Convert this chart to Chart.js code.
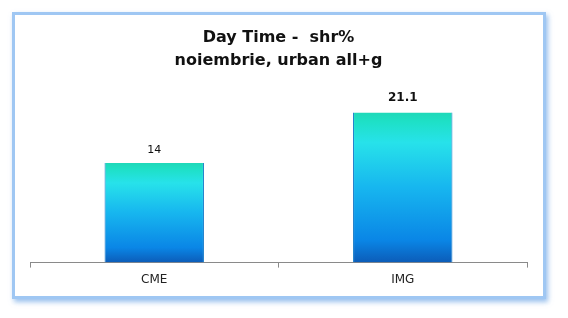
<!DOCTYPE html>
<html>
<head>
<meta charset="utf-8">
<script src="https://cdn.jsdelivr.net/npm/chart.js@4/dist/chart.umd.min.js"></script>
<style>
  html, body { margin: 0; padding: 0; background: #fff; }
  body { width: 568px; height: 318px; position: relative; overflow: hidden; }
  #frame {
    position: absolute; left: 12px; top: 12px;
    width: 528px; height: 281px;
    border: 3px solid #9fc7f3;
    box-shadow: 2px 3px 5px rgba(110, 165, 230, 0.7);
    background: #fff;
  }
  #wrap { position: absolute; left: 0; top: 0; width: 528px; height: 281px; }
</style>
</head>
<body>
<div id="frame"><div id="wrap"><canvas id="myChart"></canvas></div></div>
<script>
var titleLines = ['Day Time -  shr%', 'noiembrie, urban all+g'];
var categories = ['CME', 'IMG'];
var shareValues = [14, 21.1];
var valueLabels = ['14', '21.1'];
var labelBold = [false, true];

// vertical gradient per bar, computed from the bar's own top/bottom
function barFill(context){
    var chart = context.chart;
    var y = chart.scales && chart.scales.y;
    if (!y || context.raw == null) return '#1aa8ee';
    var top = y.getPixelForValue(context.raw);
    var bottom = y.getPixelForValue(0);
    if (!isFinite(top) || !isFinite(bottom)) return '#1aa8ee';
    var g = chart.ctx.createLinearGradient(0, top, 0, bottom);
    g.addColorStop(0, '#1fd8b8');
    g.addColorStop(0.06, '#1ee0c6');
    g.addColorStop(0.2, '#27e2ea');
    g.addColorStop(0.5, '#17b6ef');
    g.addColorStop(0.85, '#0a86e6');
    g.addColorStop(1, '#0c5cb8');
    return g;
}

var valueLabelPlugin = {
    id: 'valueLabels',
    afterDatasetsDraw: function(chart){
        var ctx = chart.ctx;
        var meta = chart.getDatasetMeta(0);
        ctx.save();
        ctx.textAlign = 'center';
        ctx.textBaseline = 'alphabetic';
        ctx.fillStyle = '#111';
        meta.data.forEach(function(bar, i){
            ctx.font = (labelBold[i] ? 'bold 12px' : '11px') + ' "DejaVu Sans"';
            ctx.fillText(valueLabels[i], bar.x, bar.y - (labelBold[i] ? 11 : 10));
        });
        ctx.restore();
    }
};

var ctx = document.getElementById('myChart').getContext('2d');
var chart = new Chart(ctx, {
    type: 'bar',
    data: {
        labels: categories,
        datasets: [{
            data: shareValues,
            backgroundColor: barFill,
            borderColor: '#1178c8',
            borderWidth: {left: 1, right: 1, top: 0, bottom: 0},
            borderSkipped: false,
            barPercentage: 0.4,
            categoryPercentage: 1.0
        }]
    },
    options: {
        responsive: true,
        maintainAspectRatio: false,
        animation: false,
        layout: { padding: { left: 15, right: 16, top: 0, bottom: 4 } },
        plugins: {
            legend: { display: false },
            tooltip: { enabled: false },
            title: {
                display: true,
                text: titleLines,
                color: '#111',
                font: { family: '"DejaVu Sans"', size: 16, weight: 'bold', lineHeight: 1.45 },
                padding: { top: 11, bottom: 13 }
            }
        },
        scales: {
            y: { display: false, min: 0, max: 24.9 },
            x: {
                border: { display: true, color: '#8a8a8a', width: 1 },
                grid: { display: true, drawOnChartArea: false, drawTicks: true, tickLength: 5, color: '#8a8a8a' },
                ticks: { color: '#222', padding: 5, font: { family: '"DejaVu Sans"', size: 12 } }
            }
        }
    },
    plugins: [valueLabelPlugin]
});
</script>
</body>
</html>
